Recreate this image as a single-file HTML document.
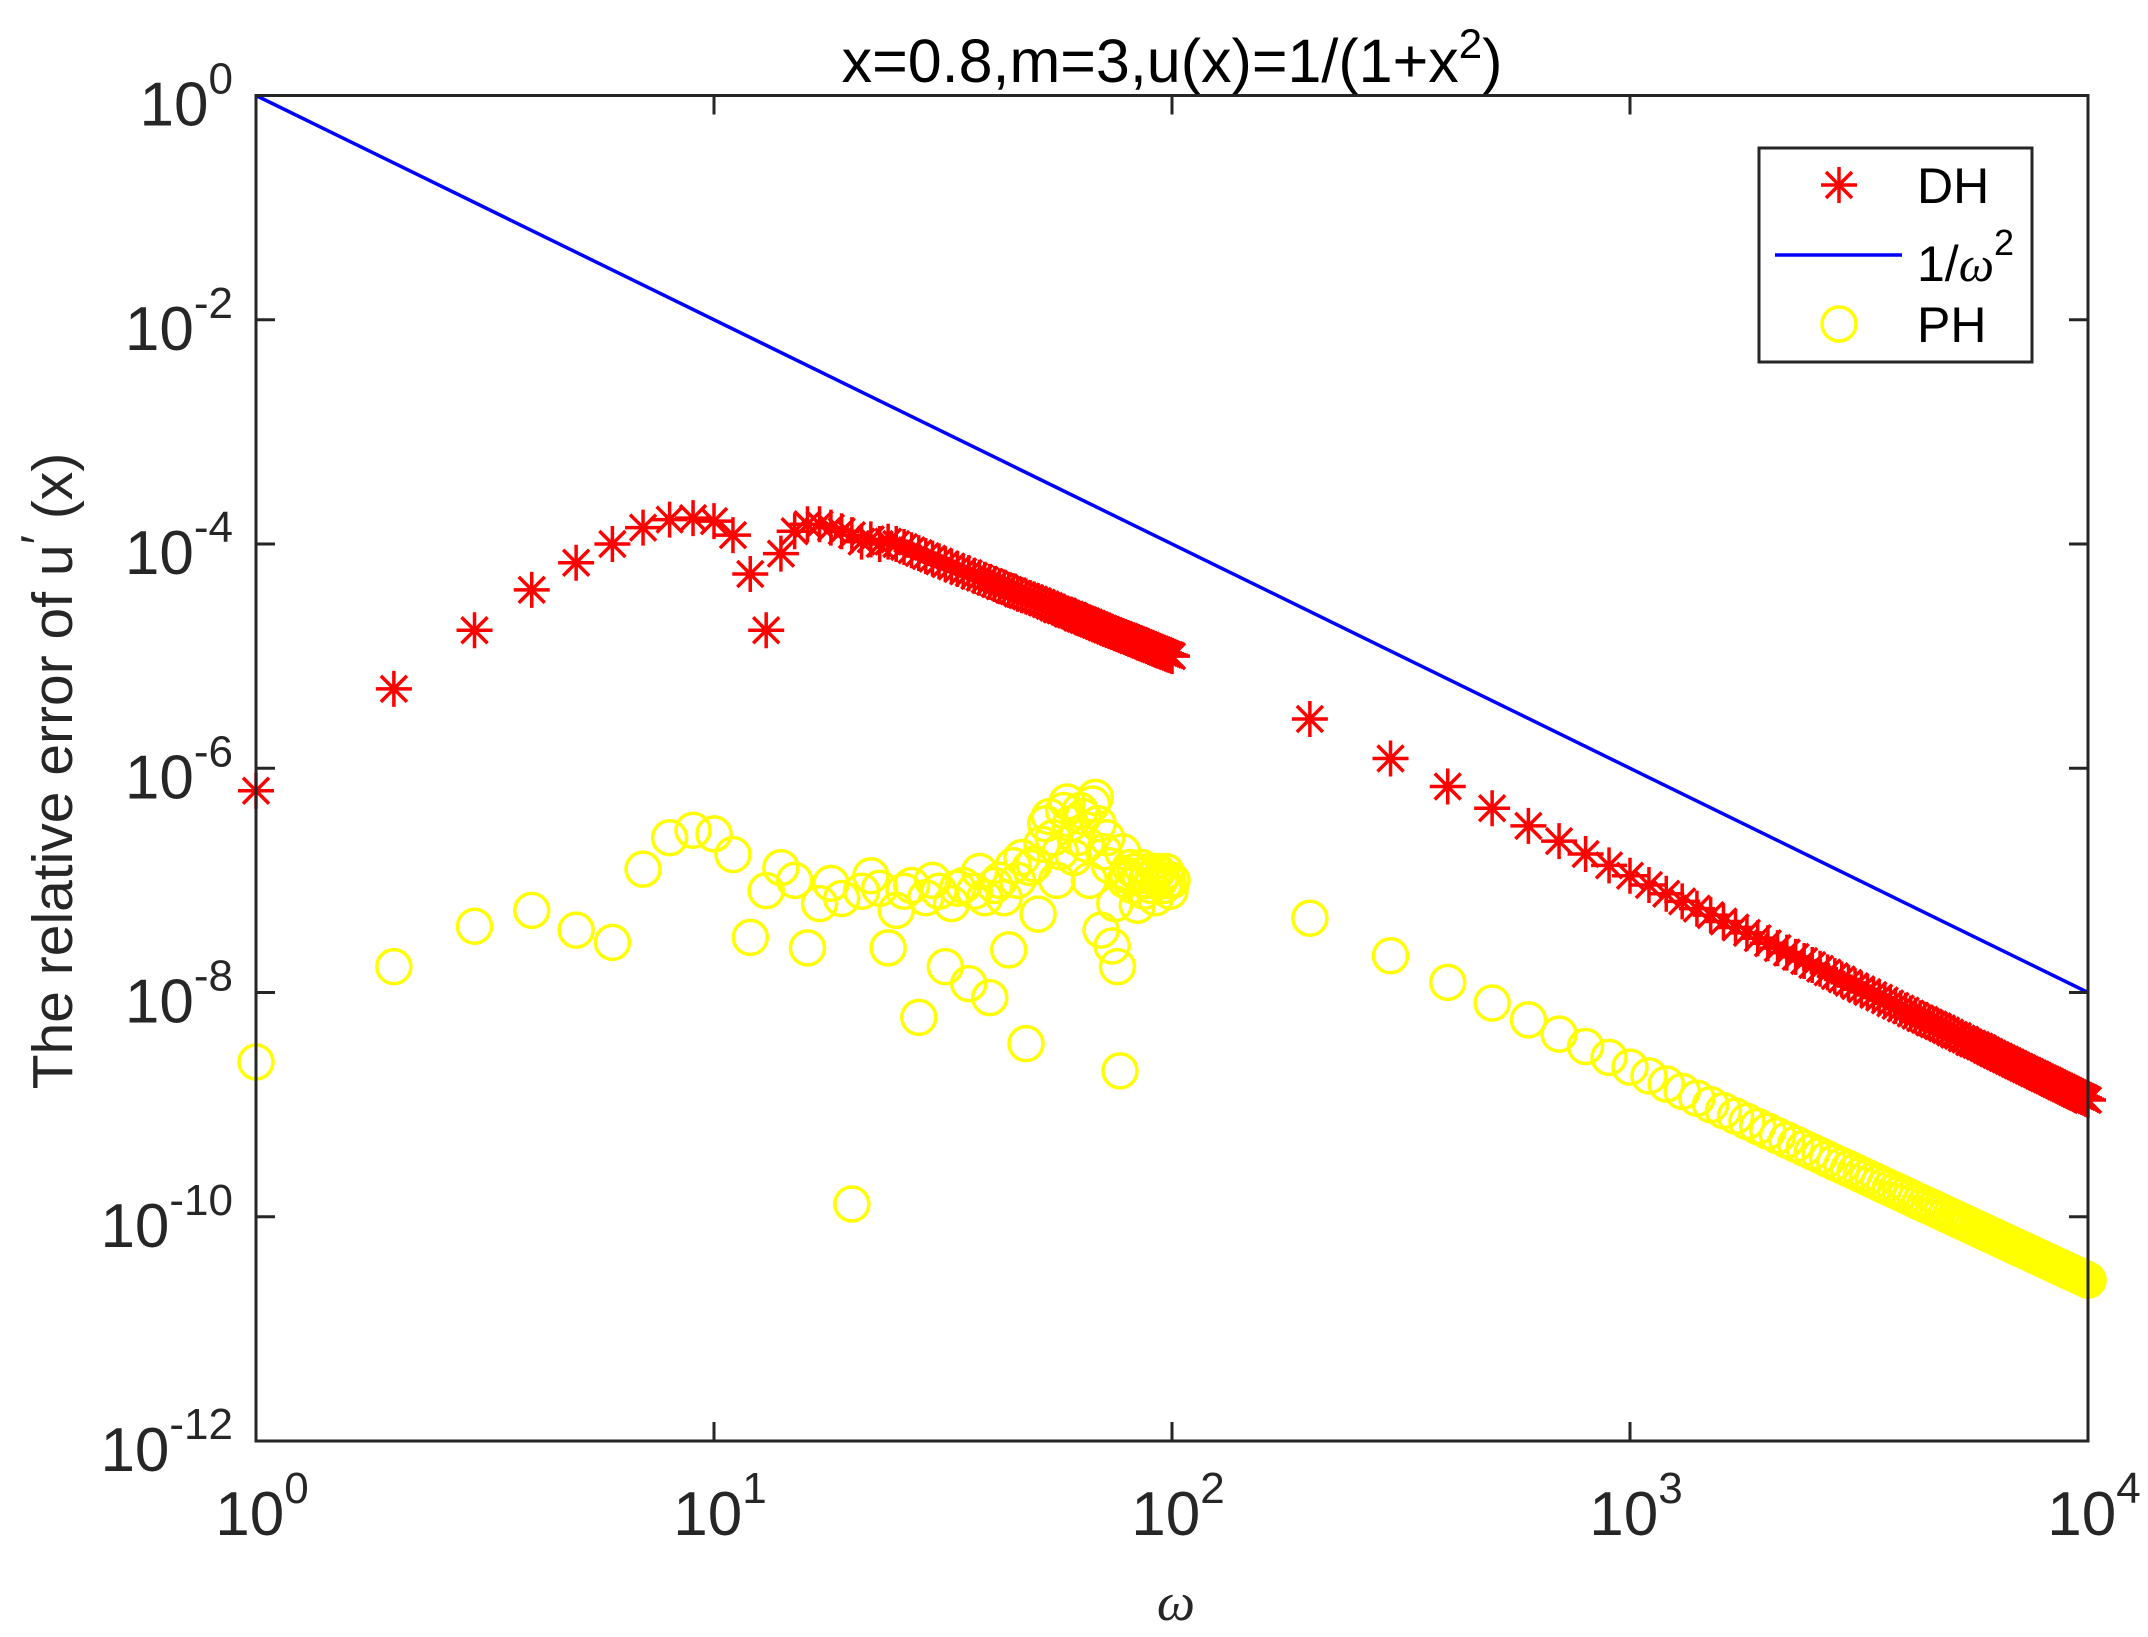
<!DOCTYPE html>
<html><head><meta charset="utf-8"><style>
html,body{margin:0;padding:0;background:#fff;}
svg{display:block;font-family:"Liberation Sans",Arial,sans-serif;}
</style></head><body>
<svg id="chart" width="2148" height="1637" viewBox="0 0 2148 1637" xmlns="http://www.w3.org/2000/svg">
<rect width="2148" height="1637" fill="#fff"/>
<text x="1172" y="82" font-size="61" text-anchor="middle" fill="#000">x=0.8,m=3,u(x)=1/(1+x<tspan dy="-24" font-size="42">2</tspan><tspan dy="24">)</tspan></text>
<g id="plot"></g>
<g id="axes"></g>
<text transform="translate(72,771) rotate(-90)" font-size="57" text-anchor="middle" fill="#262626">The relative error of u<tspan font-size="50" dy="-16">′</tspan><tspan dy="16"> (x)</tspan></text>
<text x="1176" y="1620" font-size="54" font-style="italic" text-anchor="middle" fill="#262626" font-family="Liberation Serif, serif">ω</text>
<g>
<rect x="1759" y="148" width="273" height="214" fill="#fff" stroke="#262626" stroke-width="3"/>
<g stroke="#ff0000" stroke-width="3.5">
<line x1="1821" y1="185" x2="1857" y2="185"/><line x1="1839" y1="167" x2="1839" y2="203"/>
<line x1="1826" y1="172" x2="1852" y2="198"/><line x1="1826" y1="198" x2="1852" y2="172"/></g>
<text x="1917" y="203" font-size="50" fill="#000">DH</text>
<line x1="1775" y1="255" x2="1902" y2="255" stroke="#0000ff" stroke-width="3.5"/>
<text x="1917" y="281" font-size="50" fill="#000">1/<tspan font-style="italic" font-family="Liberation Serif, serif">ω</tspan><tspan dy="-26" font-size="36">2</tspan></text>
<circle cx="1839" cy="324" r="17" fill="none" stroke="#ffff00" stroke-width="3.5"/>
<text x="1917" y="342" font-size="50" fill="#000">PH</text>
</g>
</svg>
<script>
const dhOmegaLow = [1,2,3,4,5,6,7,8,9,10,11,12,13,14,15,16,17,18,19,20,21,22,23,24,25,26,27,28,29,30,31,32,33,34,35,36,37,38,39,40,41,42,43,44,45,46,47,48,49,50,51,52,53,54,55,56,57,58,59,60,61,62,63,64,65,66,67,68,69,70,71,72,73,74,75,76,77,78,79,80,81,82,83,84,85,86,87,88,89,90,91,92,93,94,95,96,97,98,99,100];
const dhValuesLow = [6.3e-7,5.1e-6,1.7e-5,3.9e-5,6.8e-5,1.0e-4,1.4e-4,1.65e-4,1.7e-4,1.6e-4,1.2e-4,5.4e-5,1.7e-5,8.2e-5,1.3e-4,1.5e-4,1.5e-4,1.4e-4,1.3e-4,1.2e-4,1.05e-4,1.1e-4,1.0e-4,1.05e-4,1.0e-4,9.4e-5,8.8e-5,8.3e-5,7.8e-5,7.4e-5,7.0e-5,6.6e-5,6.3e-5,6.0e-5,5.7e-5,5.5e-5,5.2e-5,5.0e-5,4.8e-5,4.6e-5,4.4e-5,4.2e-5,4.1e-5,3.9e-5,3.8e-5,3.6e-5,3.5e-5,3.4e-5,3.3e-5,3.2e-5,3.1e-5,3.0e-5,2.9e-5,2.8e-5,2.7e-5,2.6e-5,2.55e-5,2.5e-5,2.4e-5,2.35e-5,2.3e-5,2.2e-5,2.15e-5,2.1e-5,2.05e-5,2.0e-5,1.95e-5,1.9e-5,1.85e-5,1.8e-5,1.76e-5,1.72e-5,1.68e-5,1.64e-5,1.6e-5,1.57e-5,1.54e-5,1.51e-5,1.48e-5,1.45e-5,1.42e-5,1.39e-5,1.37e-5,1.34e-5,1.31e-5,1.29e-5,1.26e-5,1.24e-5,1.21e-5,1.19e-5,1.17e-5,1.15e-5,1.13e-5,1.11e-5,1.09e-5,1.07e-5,1.05e-5,1.03e-5,1.02e-5,1.0e-5];
const phValuesLow = [2.4e-9,1.7e-8,3.9e-8,5.4e-8,3.6e-8,2.8e-8,1.26e-7,2.4e-7,2.8e-7,2.6e-7,1.7e-7,3.1e-8,8.1e-8,1.3e-7,1.0e-7,2.5e-8,6.2e-8,9.4e-8,6.9e-8,1.3e-10,8e-8,1.1e-7,8.5e-8,2.5e-8,5.4e-8,8e-8,9e-8,6e-9,7e-8,1.0e-7,8e-8,1.7e-8,6.2e-8,8.5e-8,9e-8,1.2e-8,8e-8,1.2e-7,7e-8,9e-9,9e-8,1e-7,7e-8,2.4e-8,1.35e-7,1.0e-7,1.6e-7,3.5e-9,1.3e-7,1.4e-7,5e-8,2.1e-7,3.2e-7,3.7e-7,2.4e-7,1e-7,1.8e-7,4.2e-7,5e-7,3.2e-7,1.6e-7,2.4e-7,4.2e-7,3.7e-7,2.1e-7,1e-7,4.8e-7,5.5e-7,3.2e-7,3.6e-8,1.8e-7,2.4e-7,1.35e-7,2.6e-8,6.2e-8,1.7e-8,2e-9,1.8e-7,1e-7,1.1e-7,1.3e-7,9e-8,1.2e-7,6e-8,1.1e-7,1.3e-7,8e-8,1.0e-7,1.2e-7,9e-8,1.1e-7,7e-8,1.2e-7,1.0e-7,1.1e-7,9e-8,1.2e-7,1.0e-7,8e-8,1.0e-7];
const omegaHigh = [200,300,400,500,600,700,800,900,1000,1100,1200,1300,1400,1500,1600,1700,1800,1900,2000,2100,2200,2300,2400,2500,2600,2700,2800,2900,3000,3100,3200,3300,3400,3500,3600,3700,3800,3900,4000,4100,4200,4300,4400,4500,4600,4700,4800,4900,5000,5100,5200,5300,5400,5500,5600,5700,5800,5900,6000,6100,6200,6300,6400,6500,6600,6700,6800,6900,7000,7100,7200,7300,7400,7500,7600,7700,7800,7900,8000,8100,8200,8300,8400,8500,8600,8700,8800,8900,9000,9100,9200,9300,9400,9500,9600,9700,9800,9900,10000];
const dhValuesHigh = [2750e-9,1222e-9,688e-9,440e-9,306e-9,224e-9,172e-9,136e-9,110e-9,91e-9,76e-9,65e-9,56e-9,49e-9,43e-9,38e-9,34e-9,30.5e-9,27.5e-9,24.9e-9,22.7e-9,20.8e-9,19.1e-9,17.6e-9,16.3e-9,15.1e-9,14.0e-9,13.1e-9,12.2e-9,11.4e-9,10.7e-9,10.1e-9,9.5e-9,9.0e-9,8.5e-9,8.0e-9,7.6e-9,7.2e-9,6.9e-9,6.5e-9,6.2e-9,5.9e-9,5.7e-9,5.4e-9,5.2e-9,5.0e-9,4.8e-9,4.6e-9,4.4e-9,4.2e-9,4.1e-9,3.9e-9,3.8e-9,3.6e-9,3.5e-9,3.4e-9,3.3e-9,3.2e-9,3.06e-9,2.96e-9,2.86e-9,2.77e-9,2.69e-9,2.60e-9,2.53e-9,2.45e-9,2.38e-9,2.31e-9,2.24e-9,2.18e-9,2.12e-9,2.06e-9,2.01e-9,1.96e-9,1.90e-9,1.86e-9,1.81e-9,1.76e-9,1.72e-9,1.68e-9,1.64e-9,1.60e-9,1.56e-9,1.52e-9,1.49e-9,1.45e-9,1.42e-9,1.39e-9,1.36e-9,1.33e-9,1.30e-9,1.27e-9,1.24e-9,1.22e-9,1.19e-9,1.17e-9,1.15e-9,1.12e-9,1.10e-9];
const phValuesHigh = [46000e-12,21280e-12,12320e-12,8065e-12,5701e-12,4255e-12,3300e-12,2640e-12,2160e-12,1803e-12,1528e-12,1312e-12,1140e-12,1000e-12,885e-12,789e-12,707e-12,638e-12,579e-12,528e-12,483e-12,444e-12,409e-12,379e-12,352e-12,327e-12,305e-12,286e-12,268e-12,252e-12,237e-12,224e-12,211e-12,200e-12,189e-12,180e-12,171e-12,163e-12,155e-12,148e-12,141e-12,135e-12,129e-12,124e-12,119e-12,114e-12,110e-12,105e-12,101.5e-12,97.8e-12,94.2e-12,90.8e-12,87.7e-12,84.7e-12,81.8e-12,79.1e-12,76.6e-12,74.1e-12,71.8e-12,69.5e-12,67.5e-12,65.4e-12,63.5e-12,61.7e-12,59.9e-12,58.2e-12,56.6e-12,55.0e-12,53.5e-12,52.1e-12,50.8e-12,49.5e-12,48.2e-12,47.0e-12,45.8e-12,44.7e-12,43.6e-12,42.6e-12,41.6e-12,40.6e-12,39.7e-12,38.7e-12,37.9e-12,37.0e-12,36.2e-12,35.4e-12,34.7e-12,33.9e-12,33.2e-12,32.5e-12,31.9e-12,31.2e-12,30.6e-12,30.0e-12,29.4e-12,28.8e-12,28.3e-12,27.7e-12,27.2e-12];
const refLineOmega = [1,10000];
const refLineValues = [1,1e-8];
const xTickExps = [0,1,2,3,4];
const yTickExps = [0,-2,-4,-6,-8,-10,-12];

const NS = "http://www.w3.org/2000/svg";
const L = 256, R = 2088, T = 95.5, B = 1441;
const xMinE = 0, xMaxE = 4, yMinE = -12, yMaxE = 0;
function xScale(v){ return L + (Math.log10(v) - xMinE) / (xMaxE - xMinE) * (R - L); }
function yScale(v){ return B - (Math.log10(v) - yMinE) / (yMaxE - yMinE) * (B - T); }
function mk(tag, attrs, parent){ const e = document.createElementNS(NS, tag); for (const k in attrs) e.setAttribute(k, attrs[k]); parent.appendChild(e); return e; }

const plot = document.getElementById('plot');
const axes = document.getElementById('axes');

const refPts = refLineOmega.map((w,i)=> xScale(w).toFixed(1)+','+yScale(refLineValues[i]).toFixed(1)).join(' ');
const refLine = mk('polyline', {points: refPts, fill:'none', stroke:'#0000ff', 'stroke-width':3.5}, plot);



const dhOmega = dhOmegaLow.concat(omegaHigh);
const dhVals = dhValuesLow.concat(dhValuesHigh);
const phVals = phValuesLow.concat(phValuesHigh);

const gDH = mk('g', {stroke:'#ff0000', 'stroke-width':3.5, fill:'none'}, plot);


const s = 18, d = 13;
dhOmega.forEach((w,i)=>{
  const cx = xScale(w), cy = yScale(dhVals[i]);
  const p = mk('path', {d:`M${cx-s} ${cy}H${cx+s}M${cx} ${cy-s}V${cy+s}M${cx-d} ${cy-d}L${cx+d} ${cy+d}M${cx-d} ${cy+d}L${cx+d} ${cy-d}`}, gDH);
  
  
});

const gPH = mk('g', {stroke:'#ffff00', 'stroke-width':3.5, fill:'none'}, plot);


dhOmega.forEach((w,i)=>{
  const c = mk('circle', {cx:xScale(w), cy:yScale(phVals[i]), r:17}, gPH);
  
  
});

const box = mk('rect', {x:L, y:T, width:R-L, height:B-T, fill:'none', stroke:'#262626', 'stroke-width':3}, axes);


const tl = 19;
xTickExps.forEach(e=>{
  const x = xScale(Math.pow(10,e));
  const t = mk('path', {d:`M${x} ${B}V${B-tl}M${x} ${T}V${T+tl}`, stroke:'#262626', 'stroke-width':3}, axes);
  
  
  const lab = mk('text', {x:x+6, y:1535, 'font-size':62, 'text-anchor':'middle', fill:'#262626'}, axes);
  
  
  lab.innerHTML = `10<tspan dy="-32" font-size="44">${e}</tspan>`;
});
yTickExps.forEach(e=>{
  const y = yScale(Math.pow(10,e));
  const t = mk('path', {d:`M${L} ${y}H${L+tl}M${R} ${y}H${R-tl}`, stroke:'#262626', 'stroke-width':3}, axes);
  
  
  const lab = mk('text', {x:233, y:y+30, 'font-size':62, 'text-anchor':'end', fill:'#262626'}, axes);
  
  
  const es = e === 0 ? '0' : '-' + (-e);
  lab.innerHTML = `10<tspan dy="-32" font-size="44">${es}</tspan>`;
});
</script>
</body></html>
